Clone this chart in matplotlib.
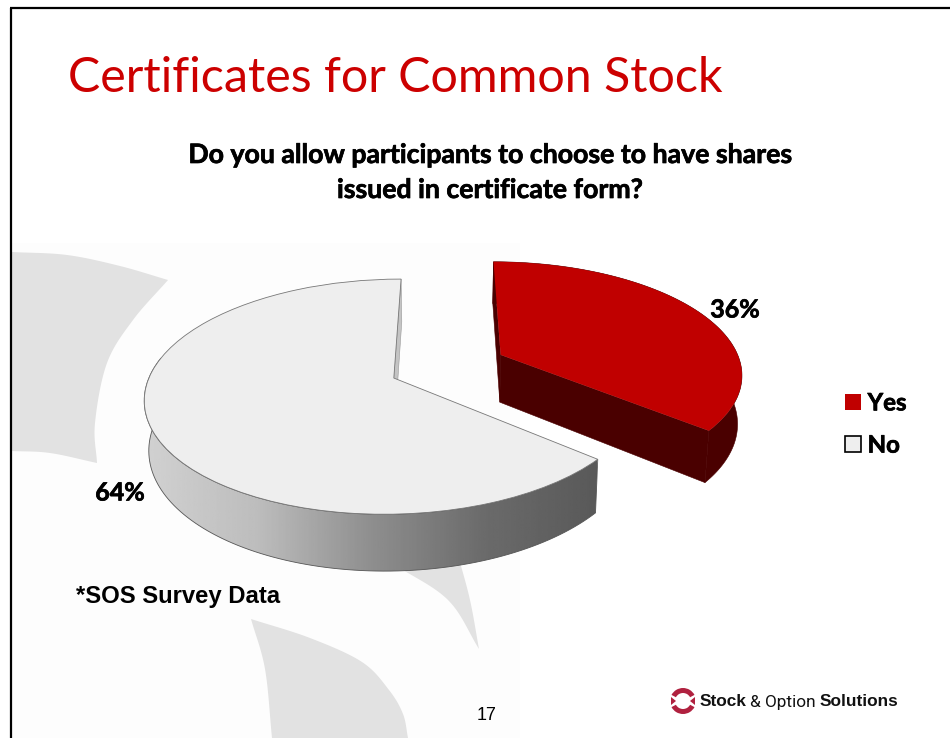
import numpy as np
import matplotlib
matplotlib.use("Agg")
import matplotlib.pyplot as plt
import matplotlib.patheffects as pe
from matplotlib.patches import Polygon, Patch, Wedge, Rectangle
from matplotlib.transforms import Transform

# ---- data ----
categories = ["Yes", "No"]
shares = [36, 64]
share_labels = ["36%", "64%"]
title_text = "Certificates for Common Stock"
question_lines = ["Do you allow participants to choose to have shares",
                  "issued in certificate form?"]
note_text = "*SOS Survey Data"
page_number = "17"

# ---- style ----
TOP_COLORS = ["#c00000", "#eeeeee"]
RED_WALL = "#4a0000"
GREY_WALL_STOPS = [0.82, 0.74, 0.56, 0.42, 0.35]
SWOOSH = "#e2e2e2"
EXPLODE = [0.25, 0.24]
HEAVY = [pe.withStroke(linewidth=0.5, foreground="black")]

XC, YC, RX, RY, K = 447.0, 366.5, 241.0, 111.0, 0.156


class PieProjection(Transform):
    """Perspective view of a unit pie laid flat; output is in figure pixels."""
    input_dims = 2
    output_dims = 2
    is_separable = False
    has_inverse = False

    def transform_non_affine(self, values):
        values = np.asarray(values, dtype=float)
        u, v = values[:, 0], values[:, 1]
        w = 1 + K * v
        return np.column_stack([XC + RX * u / w, YC - RY * v / w])


proj = PieProjection()


def lower(xy):
    """Where the underside of the pie lies for a point on the top face."""
    xy = np.asarray(xy)
    return np.column_stack([XC + 0.985 * (xy[:, 0] - XC),
                            xy[:, 1] + 50 + 0.06 * (xy[:, 1] - 400)])


def smooth(points, n=24):
    p = np.asarray(points, dtype=float)
    p = np.vstack([2 * p[0] - p[1], p, 2 * p[-1] - p[-2]])
    out = []
    for i in range(1, len(p) - 2):
        t = np.linspace(0, 1, n, endpoint=False)[:, None]
        a, b, c, d = p[i - 1], p[i], p[i + 1], p[i + 2]
        out.append(0.5 * (2 * b + (c - a) * t + (2 * a - 5 * b + 4 * c - d) * t**2
                          + (3 * b - a - 3 * c + d) * t**3))
    out.append(p[-2][None, :])
    return np.vstack(out)


fig = plt.figure(figsize=(9.5, 7.38), dpi=100, facecolor="white")
ax = fig.add_axes([0, 0, 1, 1])

wedges, _ = ax.pie(shares, explode=EXPLODE, startangle=90, counterclock=False,
                   colors=TOP_COLORS, radius=1.0)
ax.set_xlim(0, 950)
ax.set_ylim(738, 0)
ax.axis("off")

# ---- slide background ----
ax.add_patch(Rectangle((12, 243), 508, 495, fc="#fdfdfd", ec="none", zorder=0))
sw_a = np.vstack([
    smooth([(12, 252), (67, 255), (120, 266), (168, 280)]),
    smooth([(168, 280), (133, 320), (107, 363), (95, 423), (97, 463)]),
    smooth([(97, 463), (50, 453), (12, 451)]),
])
sw_b = np.vstack([
    smooth([(395, 565), (448, 600), (479, 649)]),
    smooth([(479, 649), (470, 600), (458, 555)]),
])
sw_c = np.vstack([
    smooth([(251, 619), (310, 638), (362, 662), (389, 690), (403, 714), (408, 738)]),
    smooth([(272, 738), (265, 669), (251, 619)]),
])
for sw in (sw_a, sw_b, sw_c):
    ax.add_patch(Polygon(sw, closed=True, fc=SWOOSH, ec="none", zorder=1))

ax.plot([11, 11], [738, 8], color="black", lw=1.6, zorder=6, solid_capstyle="butt")
ax.plot([10, 950], [8, 8], color="black", lw=1.6, zorder=6, solid_capstyle="butt")

# ---- pie walls and top faces ----
for i, wedge in enumerate(wedges):
    cx, cy = wedge.center
    t = np.radians(np.linspace(wedge.theta1, wedge.theta2, 160))
    arc = proj.transform(np.column_stack([cx + wedge.r * np.cos(t),
                                          cy + wedge.r * np.sin(t)]))
    apex = proj.transform(np.array([[cx, cy]]))
    cut_a = np.vstack([apex, arc[:1], lower(arc[:1]), lower(apex)])
    cut_b = np.vstack([apex, arc[-1:], lower(arc[-1:]), lower(apex)])

    if i == 0:
        wall = np.vstack([arc, lower(arc)[::-1]])
        for poly in (wall, cut_a, cut_b):
            ax.add_patch(Polygon(poly, closed=True, fc=RED_WALL, ec=RED_WALL,
                                 lw=0.4, zorder=2))
    else:
        front = arc[np.sin(t) < 0.2]
        wall = np.vstack([front, lower(front)[::-1]])
        sliver = cut_a if arc[0, 1] < arc[-1, 1] else cut_b
        ax.add_patch(Polygon(sliver, closed=True, fc="#c4c4c4", ec="#999999",
                             lw=0.4, zorder=2))
        patch = Polygon(wall, closed=True, fc="none", ec="#555555", lw=0.6, zorder=2.2)
        ax.add_patch(patch)
        grad = np.interp(np.linspace(0, 1, 256),
                         np.linspace(0, 1, len(GREY_WALL_STOPS)), GREY_WALL_STOPS)
        im = ax.imshow(grad[None, :], cmap="gray", vmin=0, vmax=1, aspect="auto",
                       extent=(wall[:, 0].min(), 597, 600, 300), zorder=2.1)
        im.set_clip_path(patch)

    wedge.set_transform(proj + ax.transData)
    wedge.set_zorder(3)
    if i == 1:
        wedge.set_edgecolor("#777777")
        wedge.set_linewidth(0.6)
    else:
        wedge.set_edgecolor("none")

ax.set_xlim(0, 950)
ax.set_ylim(738, 0)

# ---- text ----
ax.text(68, 78, title_text, family="Lato", fontsize=34.8, color="#cc0000",
        va="center", ha="left", zorder=5)
for line, y in zip(question_lines, (155, 190)):
    ax.text(490, y, line, family="Lato", weight="bold", fontsize=19.2, color="black",
            va="center", ha="center", zorder=5, path_effects=HEAVY)
ax.text(735, 310, share_labels[0], family="Lato", weight="bold", fontsize=18,
        va="center", ha="center", zorder=5, path_effects=HEAVY)
ax.text(120, 493, share_labels[1], family="Lato", weight="bold", fontsize=18,
        va="center", ha="center", zorder=5, path_effects=HEAVY)
ax.text(76, 597, note_text, family="Liberation Sans", weight="bold", fontsize=17.2,
        va="center", ha="left", zorder=5)
ax.text(487, 715, page_number, family="Liberation Sans", fontsize=13,
        va="center", ha="center", zorder=5)

# ---- legend ----
handles = [Patch(facecolor=TOP_COLORS[0], edgecolor="none"),
           Patch(facecolor=TOP_COLORS[1], edgecolor="black", linewidth=1.2)]
leg = ax.legend(handles, categories, loc="center left",
                bbox_to_anchor=(845 / 950, 1 - 424 / 738),
                frameon=False, prop={"family": "Lato", "weight": "bold", "size": 17.3},
                handlelength=0.68, handleheight=0.68, handletextpad=0.26,
                labelspacing=0.8, borderpad=0, borderaxespad=0)
for txt in leg.get_texts():
    txt.set_path_effects(HEAVY)

# ---- logo ----
LOGO = "#b0213f"
for t1, t2 in ((28, 152), (208, 332)):
    ax.add_patch(Wedge((683, 701), 13, t1, t2, width=5, fc=LOGO, ec="none", zorder=5))
ax.add_patch(Polygon([(671, 697), (676, 701), (671, 705)], closed=True, fc=LOGO, ec="none", zorder=5))
ax.add_patch(Polygon([(695, 697), (690, 701), (695, 705)], closed=True, fc=LOGO, ec="none", zorder=5))

renderer = fig.canvas.get_renderer()
x = 700.0
for piece, fam, wt in (("Stock", "Liberation Sans", "bold"),
                       ("& Option", "Roboto", "normal"),
                       ("Solutions", "Liberation Sans", "bold")):
    txt = ax.text(x, 702, piece, family=fam, weight=wt, fontsize=12.4,
                  va="center", ha="left", color="#111111", zorder=5)
    bb = txt.get_window_extent(renderer)
    x = bb.x1 + 3.5

fig.savefig("out.png", dpi=100, facecolor="white")
